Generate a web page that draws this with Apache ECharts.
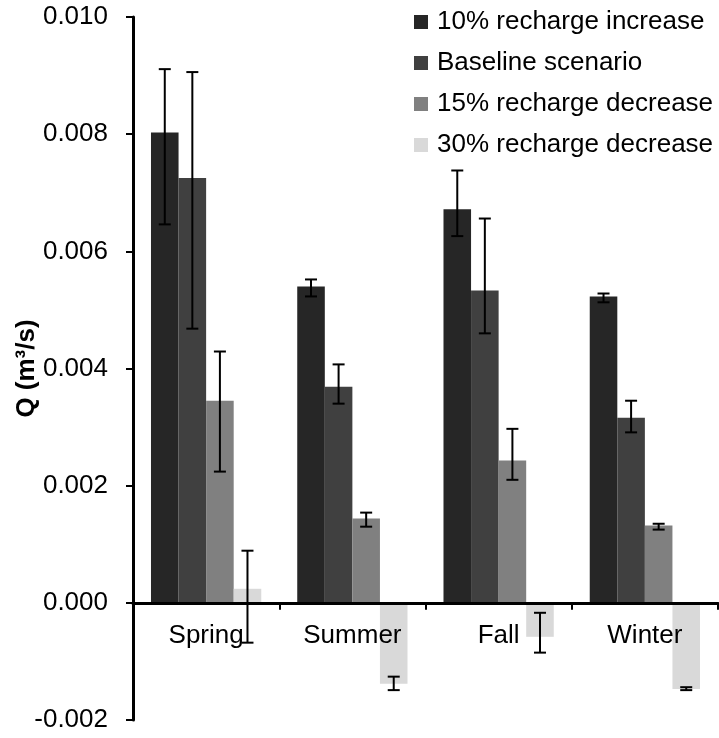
<!DOCTYPE html>
<html>
<head>
<meta charset="utf-8">
<script src="https://cdn.jsdelivr.net/npm/echarts@6/dist/echarts.min.js"></script>
<style>html,body{margin:0;padding:0;background:#fff}#c{width:719px;height:738px}</style>
</head>
<body>
<div id="c"></div>
<script>
var categories = ['Spring', 'Summer', 'Fall', 'Winter'];
var seriesNames = ['10% recharge increase', 'Baseline scenario', '15% recharge decrease', '30% recharge decrease'];
var inc10 = [0.00803, 0.00540, 0.00672, 0.00523];
var baseline = [0.00725, 0.00369, 0.00533, 0.00316];
var dec15 = [0.00345, 0.00144, 0.00243, 0.00132];
var dec30 = [0.00024, -0.00138, -0.00058, -0.00147];
var inc10Low = [0.00646, 0.00523, 0.00626, 0.00513];
var inc10High = [0.00911, 0.00552, 0.00738, 0.00528];
var baseLow = [0.00468, 0.00340, 0.00460, 0.00291];
var baseHigh = [0.00906, 0.00407, 0.00656, 0.00345];
var dec15Low = [0.00224, 0.00130, 0.00210, 0.00125];
var dec15High = [0.00429, 0.00154, 0.00297, 0.00135];
var dec30Low = [-0.00068, -0.00149, -0.00085, -0.00149];
var dec30High = [0.00089, -0.00126, -0.00017, -0.00144];
var yTicks = [-0.002, 0.000, 0.002, 0.004, 0.006, 0.008, 0.010];

var colors = ['#262626', '#404040', '#808080', '#d9d9d9'];
var values = [inc10, baseline, dec15, dec30];
var lows = [inc10Low, baseLow, dec15Low, dec30Low];
var highs = [inc10High, baseHigh, dec15High, dec30High];
var CAT_GAP = 0.246;

var errData = [];
for (var s = 0; s < 4; s++) {
  for (var c = 0; c < categories.length; c++) {
    errData.push([c, lows[s][c], highs[s][c], s]);
  }
}

var series = [];
for (var i = 0; i < 4; i++) {
  series.push({
    name: seriesNames[i],
    type: 'bar',
    data: values[i],
    itemStyle: { color: colors[i] },
    barGap: '0%',
    barCategoryGap: (CAT_GAP * 100) + '%',
    z: 2
  });
}
series.push({
  type: 'custom',
  data: errData,
  z: 10,
  clip: false,
  encode: { x: 0, y: [1, 2] },
  renderItem: function (params, api) {
    var ci = api.value(0);
    var si = api.value(3);
    var lo = api.coord([ci, api.value(1)]);
    var hi = api.coord([ci, api.value(2)]);
    var band = api.size([1, 0])[0];
    var bw = band * (1 - CAT_GAP) / 4;
    var x = lo[0] + (si - 1.5) * bw;
    var cap = 6;
    var st = { stroke: '#000', lineWidth: 2 };
    return {
      type: 'group',
      children: [
        { type: 'line', shape: { x1: x, y1: lo[1], x2: x, y2: hi[1] }, style: st },
        { type: 'line', shape: { x1: x - cap, y1: lo[1], x2: x + cap, y2: lo[1] }, style: st },
        { type: 'line', shape: { x1: x - cap, y1: hi[1], x2: x + cap, y2: hi[1] }, style: st }
      ]
    };
  }
});

var chart = echarts.init(document.getElementById('c'), null, { renderer: 'canvas' });
chart.setOption({
  animation: false,
  backgroundColor: '#fff',
  textStyle: { fontFamily: 'Liberation Sans, Arial, sans-serif' },
  grid: { left: 133, right: 1, top: 17, bottom: 18, containLabel: false, outerBoundsMode: 'none' },
  legend: {
    data: seriesNames,
    orient: 'vertical',
    left: 414,
    top: 9,
    padding: 0,
    itemWidth: 14,
    itemHeight: 14,
    itemGap: 15,
    icon: 'rect',
    textStyle: { fontSize: 26, color: '#000', lineHeight: 26, padding: [0, 0, 0, 4] }
  },
  xAxis: {
    type: 'category',
    data: categories,
    z: 5,
    axisLine: { onZero: false, lineStyle: { color: '#000', width: 3 } },
    axisTick: { show: true, inside: false, length: 7, lineStyle: { color: '#000', width: 2 } },
    axisLabel: { fontSize: 26, color: '#000', margin: 20 },
    splitLine: { show: false }
  },
  yAxis: {
    type: 'value',
    min: yTicks[0],
    max: yTicks[yTicks.length - 1],
    interval: 0.002,
    name: 'Q (m³/s)',
    nameLocation: 'middle',
    nameGap: 93,
    nameMoveOverlap: false,
    nameTextStyle: { fontSize: 26, fontWeight: 'bold', color: '#000' },
    axisLine: { show: true, lineStyle: { color: '#000', width: 3 } },
    axisTick: { show: true, inside: false, length: 7, lineStyle: { color: '#000', width: 2 } },
    axisLabel: { fontSize: 26, color: '#000', margin: 25, formatter: function (v) { return v.toFixed(3); } },
    splitLine: { show: false }
  },
  series: series
});
// place the category axis on the zero line (derived from the value scale)
var zeroY = chart.convertToPixel({ yAxisIndex: 0 }, 0);
var minY = chart.convertToPixel({ yAxisIndex: 0 }, yTicks[0]);
chart.setOption({ xAxis: { offset: zeroY - minY } });
</script>
</body>
</html>
